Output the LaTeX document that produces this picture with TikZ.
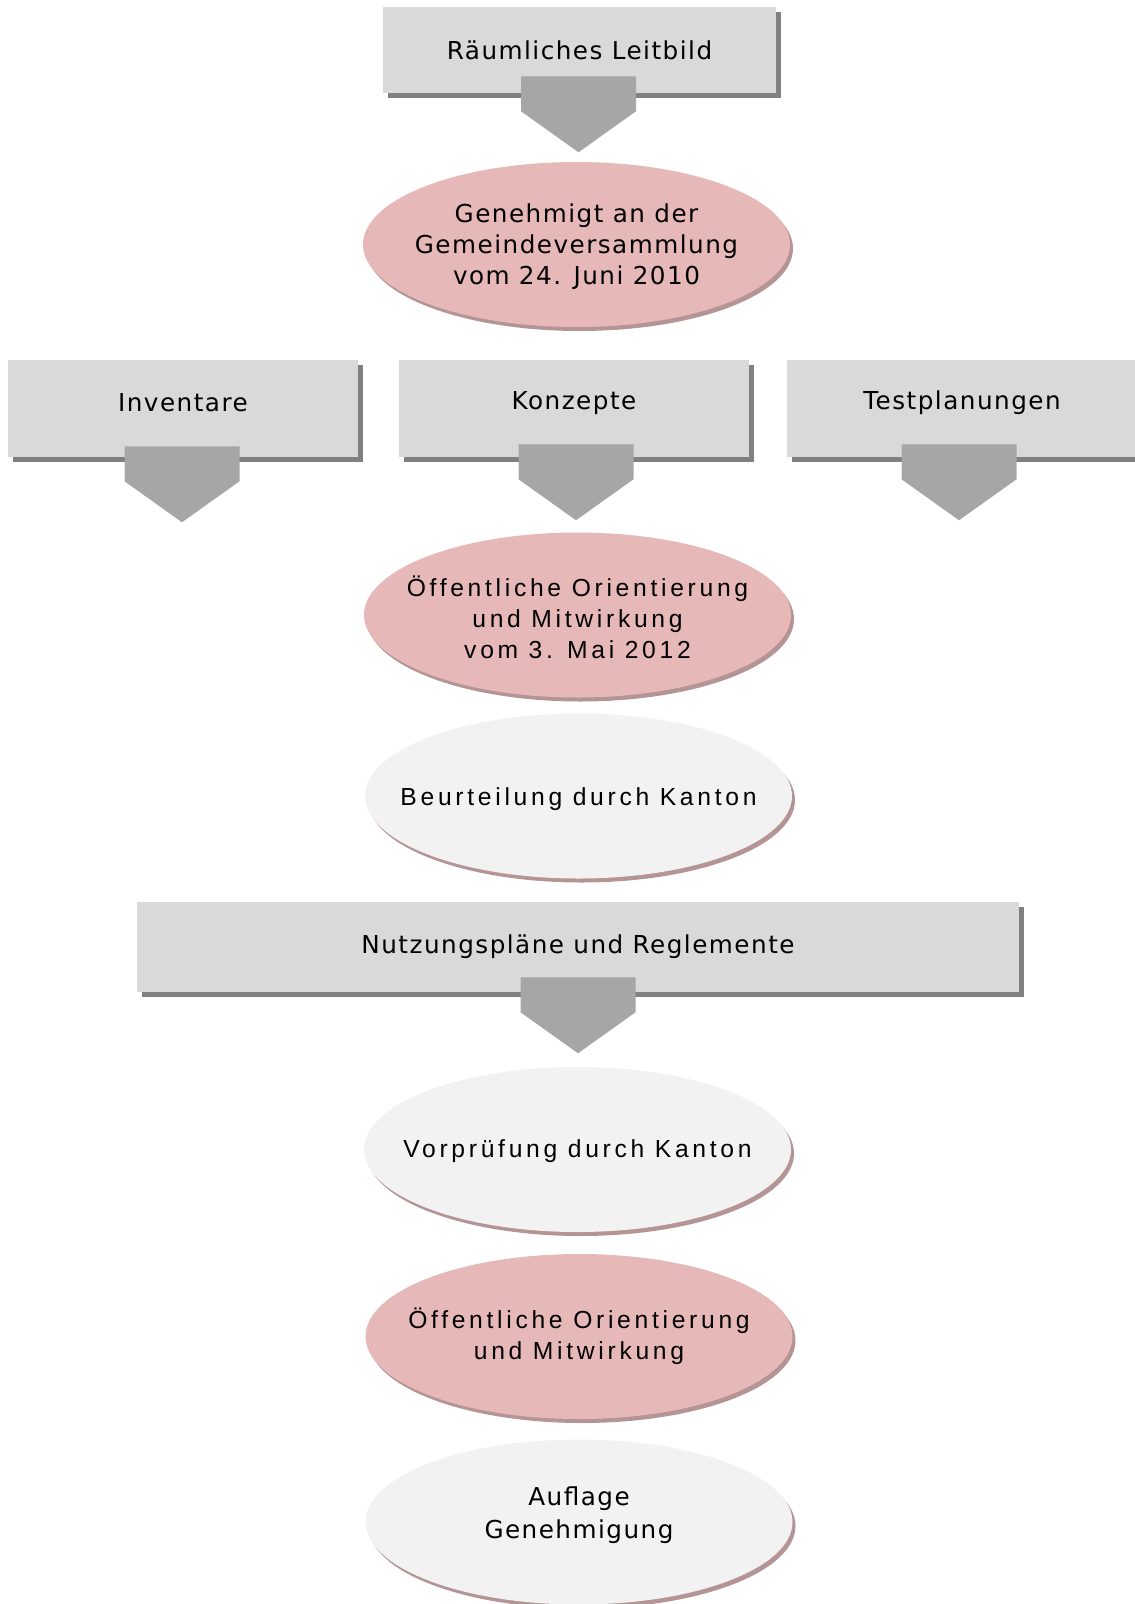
\documentclass[tikz,border=0pt]{standalone}
\usepackage{fontspec}
\usetikzlibrary{shapes.geometric,shadows,calc}
\newfontfamily\dvs[LetterSpace=6]{DejaVu Sans}
\newfontfamily\lib[LetterSpace=15]{Liberation Sans}
\definecolor{boxfill}{RGB}{217,217,217}
\definecolor{boxshadow}{RGB}{128,128,128}
\definecolor{arrowfill}{RGB}{166,166,166}
\definecolor{pinkfill}{RGB}{230,185,184}
\definecolor{lightfill}{RGB}{242,242,242}
\definecolor{ellshadow}{RGB}{180,148,148}
\tikzset{
  txt/.style={font=\fontsize{18.5pt}{23.25pt}\selectfont, align=center, text=black, inner sep=0pt},
  graybox/.style={rectangle, fill=boxfill, inner sep=0pt,
    general shadow={fill=boxshadow, shadow xshift=3.75pt, shadow yshift=-3.75pt}},
  oval/.style={ellipse, inner sep=0pt, minimum width=320.25pt, minimum height=123.75pt,
    general shadow={fill=ellshadow, shadow xshift=2.25pt, shadow yshift=-3pt}},
  pinkoval/.style={oval, fill=pinkfill},
  lightoval/.style={oval, fill=lightfill},
  blockarrow/.style={fill=arrowfill},
}
\newcommand{\blockarr}[3]{%
  \fill[blockarrow] ($(#1.south)+(-57.5+#3,-#2)$) -- ++(115,0) -- ++(0,35) -- ++(-57.5,41) -- ++(-57.5,-41) -- cycle;}
\begin{document}
\begin{tikzpicture}[x=0.75pt,y=-0.75pt]
\useasboundingbox (0,0) rectangle (1135,1604);

% boxes
\node[graybox, minimum width=294.75pt, minimum height=64.5pt] (leit) at (579.5,50) {};
\node[graybox, minimum width=262.5pt, minimum height=72.75pt] (inv) at (183,408.5) {};
\node[graybox, minimum width=262.5pt, minimum height=72.75pt] (konz) at (574,408.5) {};
\node[graybox, minimum width=262.5pt, minimum height=72.75pt] (test) at (962,408.5) {};
\node[graybox, minimum width=661.5pt, minimum height=67.5pt] (nutz) at (578,947) {};

% ellipses
\node[pinkoval] (gen) at (576.5,244.5) {};
\node[pinkoval] (oeff1) at (577.5,615) {};
\node[lightoval] (beur) at (578.5,796) {};
\node[lightoval] (vorp) at (577.5,1149.5) {};
\node[pinkoval] (oeff2) at (579,1336.5) {};
\node[lightoval] (aufl) at (579,1522) {};

% block arrows
\blockarr{leit}{17}{-1}
\blockarr{inv}{11}{-1}
\blockarr{konz}{13}{2}
\blockarr{test}{13}{-3}
\blockarr{nutz}{15}{0}

% texts
\node[txt] (leit-t) at ([yshift=0pt]leit.center) {\dvs Räumliches Leitbild};
\node[txt] (inv-t) at ([yshift=4pt]inv.center) {\dvs Inventare};
\node[txt] (konz-t) at ([yshift=4pt]konz.center) {\dvs Konzepte};
\node[txt] (test-t) at ([yshift=4pt]test.center) {\dvs Testplanungen};
\node[txt] (nutz-t) at ([yshift=0pt]nutz.center) {\dvs Nutzungspläne und Reglemente};
\node[txt] (gen-t) at ([yshift=-1.5pt]gen.center) {\dvs Genehmigt an der\\\dvs Gemeindeversammlung\\\dvs vom 24. Juni 2010};
\node[txt] (oeff1-t) at ([yshift=-1.5pt]oeff1.center) {\lib Öffentliche Orientierung\\\lib und Mitwirkung\\\lib vom 3. Mai 2012};
\node[txt] (beur-t) at ([yshift=-2pt]beur.center) {\lib Beurteilung durch Kanton};
\node[txt] (vorp-t) at ([yshift=-1.5pt]vorp.center) {\lib Vorprüfung durch Kanton};
\node[txt] (oeff2-t) at ([yshift=0pt]oeff2.center) {\lib Öffentliche Orientierung\\\lib und Mitwirkung};
\node[txt, font=\fontsize{18.5pt}{24.75pt}\selectfont] (aufl-t) at ([yshift=5pt]aufl.center) {\dvs Auflage\\\dvs Genehmigung};
\end{tikzpicture}
\end{document}
